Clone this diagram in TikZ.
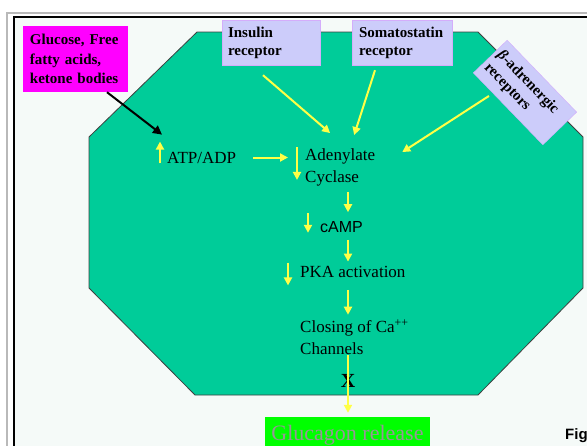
\documentclass[tikz,border=0pt]{standalone}
\usepackage{fontspec}
\setmainfont{Liberation Serif}
\newfontfamily\arialfont{Liberation Sans}
\usetikzlibrary{arrows.meta}

\definecolor{cellgreen}{RGB}{0,204,153}
\definecolor{recblue}{RGB}{204,204,250}
\definecolor{fuelpink}{RGB}{255,0,255}
\definecolor{arrowyellow}{RGB}{255,255,70}
\definecolor{paper}{RGB}{245,250,248}
\definecolor{glugray}{RGB}{150,150,150}

\begin{document}
\begin{tikzpicture}[x=1pt,y=-1pt,
    lbl/.style={inner sep=0pt, align=left, font=\fontsize{17}{22}\selectfont},
    recbox/.style={fill=recblue, draw=recblue!85!fuelpink, line width=0.4pt,
      minimum height=45pt, inner xsep=6pt, align=left, text=black,
      font=\bfseries\fontsize{15}{18}\selectfont},
    yarrow/.style={draw=arrowyellow, line width=2pt, -{Triangle[length=8pt,width=8pt]}},
    ]
    \useasboundingbox (0,0) rectangle (587,445);

    % Page frame
    \fill[paper] (14,17) rectangle (595,450);
    \draw[gray!55, line width=1.5pt] (7,450) -- (7,13) -- (595,13);
    \draw[line width=1.5pt] (14,450) -- (14,17) -- (595,17);

    % The cell
    \draw[fill=cellgreen, draw=black!75, line width=0.8pt]
      (197,32) -- (478,32) -- (583,137) -- (583,288) -- (478,395)
      -- (195,395) -- (89,288) -- (89,137) -- cycle;

    % Inputs
    \node[fill=fuelpink, text=black, minimum height=66pt, text width=91pt, inner xsep=7pt, align=left,
      font=\bfseries\fontsize{15}{19.5}\selectfont] (fuel) at (75.5,59)
      {Glucose, Free\\fatty acids,\\ketone bodies};
    \node[recbox, text width=86pt] (ins) at (271,42.5) {Insulin\\receptor};
    \node[recbox, text width=86pt, inner xsep=7pt] (som) at (402,42.5) {Somatostatin\\receptor};
    \node[recbox, text width=92pt, minimum height=47pt, inner xsep=4pt, rotate=-46] (beta) at (525,92.5)
      {\textit{β}-adrenergic\\receptors};

    % Pathway
    \node[lbl, anchor=west] (atp) at (167,157.5) {ATP/ADP};
    \node[lbl, anchor=west] (ac) at (305,167) {Adenylate\\Cyclase};
    \node[inner sep=0pt, anchor=west, font=\arialfont\fontsize{16}{19}\selectfont] (camp) at (320,227) {cAMP};
    \node[lbl, anchor=west] (pka) at (300,271.5) {PKA activation};
    \node[lbl, anchor=west] (ca) at (300,337.5) {Closing of Ca\textsuperscript{++}\\Channels};
    \node[inner sep=0pt, font=\bfseries\fontsize{20}{24}\selectfont] (block) at (348,381) {X};
    \node[fill=green, minimum width=165pt, minimum height=36pt, text=glugray,
      font=\fontsize{22}{26}\selectfont] (glu) at (347.5,435) {Glucagon release};
    \node[inner sep=0pt, anchor=west, font=\arialfont\bfseries\fontsize{15}{18}\selectfont] (fig) at (565,436) {Fig};

    % Arrows into the cell
    \draw[line width=2pt, -{Triangle[length=9pt,width=9pt]}]
      ([xshift=31.5pt]fuel.south) -- ([shift={(-5,-17)}]atp.north west);
    \draw[yarrow] ([shift={(-8,10)}]ins.south) -- ([shift={(-10,-15)}]ac.north);
    \draw[yarrow] ([shift={(-27,5)}]som.south) -- ([shift={(14,-13)}]ac.north);
    \draw[yarrow] ([shift={(-19,-13)}]beta.south) -- ([shift={(27,4)}]ac.north east);
    \draw[yarrow, shorten <=17pt, shorten >=17pt] (atp.east) -- (atp.east -| ac.west);

    % Up / down marks
    \draw[yarrow] ([shift={(-7,0)}]atp.south west) -- ([shift={(-7,-10)}]atp.north west);
    \draw[yarrow] ([shift={(-8,-1)}]ac.north west) -- ([shift={(-8,-6)}]ac.south west);
    \draw[yarrow] ([shift={(-12,-8)}]camp.north west) -- ([shift={(-12,0)}]camp.south west);
    \draw[yarrow] ([shift={(-12,-3)}]pka.north west) -- ([shift={(-12,8)}]pka.south west);

    % Cascade
    \draw[yarrow, shorten <=6pt, shorten >=9pt] (ac.south -| block) -- (camp.north -| block);
    \draw[yarrow, shorten <=7pt, shorten >=4pt] (camp.south -| block) -- (pka.north -| block);
    \draw[yarrow, shorten <=12.5pt, shorten >=5pt] (pka.south -| block) -- (ca.north -| block);
    \draw[yarrow, shorten >=4pt] (ca.south -| block) -- (glu.north -| block);
\end{tikzpicture}
\end{document}
